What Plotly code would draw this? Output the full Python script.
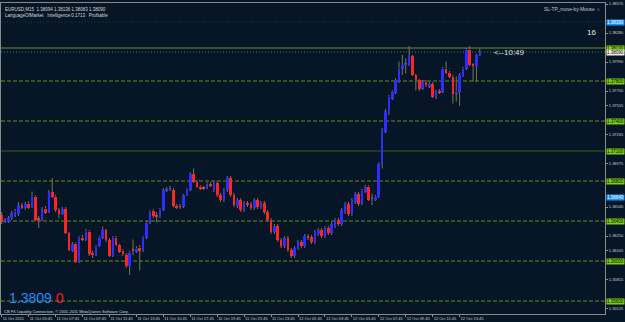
import plotly.graph_objects as go

# ---------------- data (EURUSD, M15) ----------------
opens = [1.3646, 1.3640, 1.36395, 1.3643, 1.3646, 1.3647, 1.3656, 1.3653, 1.36575, 1.3654,
         1.36645, 1.3642, 1.3641, 1.36525, 1.3649, 1.3669, 1.36645, 1.3651, 1.36475, 1.3652,
         1.3628, 1.36105, 1.36175, 1.35995, 1.36235, 1.36215, 1.36295, 1.3608, 1.36065, 1.3615,
         1.36235, 1.3631, 1.3621, 1.3605, 1.36235, 1.3616, 1.36105, 1.3606, 1.3595, 1.3611,
         1.36095, 1.36135, 1.3611, 1.36235, 1.36385, 1.36505, 1.3645, 1.3645, 1.36515, 1.36705,
         1.3671, 1.3671, 1.3655, 1.3655, 1.36545, 1.3666, 1.36715, 1.3687, 1.36795, 1.36745,
         1.3673, 1.36735, 1.3677, 1.3671, 1.3678, 1.3666, 1.3661, 1.3671, 1.3683, 1.3666,
         1.3655, 1.3661, 1.3651, 1.3657, 1.3657, 1.3653, 1.3661, 1.3654, 1.3658, 1.3649,
         1.3641, 1.3629, 1.3635, 1.3621, 1.3615, 1.3623, 1.3611, 1.3605, 1.3613, 1.3619,
         1.3615, 1.3624, 1.3624, 1.3619, 1.3627, 1.3631, 1.3625, 1.3633, 1.3628, 1.3635,
         1.3641, 1.3637, 1.3649, 1.3657, 1.3647, 1.3659, 1.3667, 1.36575, 1.36695, 1.36745,
         1.36625, 1.3661, 1.36645, 1.36975, 1.37295, 1.3750, 1.37625, 1.37685, 1.37795, 1.37925,
         1.37965, 1.3796, 1.3805, 1.3786, 1.3781, 1.37725, 1.37795, 1.37745, 1.3777, 1.37635,
         1.37695, 1.37695, 1.37925, 1.37885, 1.37845, 1.37675, 1.37695, 1.3785, 1.37925, 1.38115,
         1.37965, 1.3795, 1.3806]
highs = [1.3649, 1.3643, 1.3645, 1.3650, 1.3652, 1.3659, 1.3658, 1.3659, 1.3660, 1.36695,
         1.3666, 1.3645, 1.3654, 1.3655, 1.3671, 1.3683, 1.3666, 1.3653, 1.3654, 1.3654,
         1.3629, 1.3619, 1.3619, 1.3625, 1.3626, 1.3632, 1.3631, 1.3610, 1.3616, 1.3625,
         1.36345, 1.3632, 1.3623, 1.3625, 1.3625, 1.3617, 1.3612, 1.3608, 1.3610, 1.36215,
         1.3615, 1.3616, 1.3625, 1.3640, 1.3651, 1.3652, 1.3649, 1.3653, 1.3673, 1.3674,
         1.3675, 1.3673, 1.3657, 1.3657, 1.3667, 1.3673, 1.3689, 1.36925, 1.3681, 1.3676,
         1.3675, 1.3679, 1.3679, 1.3680, 1.3680, 1.3668, 1.3673, 1.3685, 1.3685, 1.3668,
         1.3663, 1.3663, 1.3660, 1.3660, 1.3659, 1.3663, 1.3663, 1.3660, 1.3660, 1.3651,
         1.3643, 1.3637, 1.3637, 1.3623, 1.3625, 1.3625, 1.3613, 1.3615, 1.3621, 1.3621,
         1.3627, 1.3627, 1.3626, 1.3631, 1.3633, 1.3633, 1.3635, 1.3635, 1.3639, 1.3643,
         1.3643, 1.3653, 1.3659, 1.3659, 1.3663, 1.3669, 1.3669, 1.3672, 1.3676, 1.3676,
         1.36675, 1.3666, 1.3699, 1.3733, 1.3752, 1.3766, 1.3771, 1.3783, 1.37995, 1.3806,
         1.38025, 1.3815, 1.3806, 1.3787, 1.3782, 1.3781, 1.3781, 1.3779, 1.3779, 1.3771,
         1.3772, 1.3794, 1.37995, 1.3790, 1.3786, 1.37845, 1.3788, 1.3794, 1.3813, 1.3815,
         1.3798, 1.3807, 1.38125]
lows = [1.3637, 1.3638, 1.3638, 1.3641, 1.3644, 1.3645, 1.3652, 1.3651, 1.3652, 1.3653,
        1.3640, 1.3633, 1.3640, 1.3647, 1.3648, 1.3663, 1.3649, 1.3643, 1.3646, 1.3627,
        1.3610, 1.3609, 1.3598, 1.3598, 1.3620, 1.3620, 1.3605, 1.3603, 1.3605, 1.3614,
        1.3622, 1.3619, 1.3604, 1.3604, 1.3615, 1.3608, 1.3605, 1.3593, 1.3586, 1.3606,
        1.3608, 1.35905, 1.3609, 1.3622, 1.3637, 1.3643, 1.3639, 1.3643, 1.3650, 1.3669,
        1.3670, 1.3654, 1.3652, 1.3652, 1.3653, 1.3665, 1.3670, 1.3678, 1.3673, 1.3671,
        1.3671, 1.3672, 1.3674, 1.3669, 1.3664, 1.3659, 1.3659, 1.3669, 1.3664, 1.3654,
        1.3653, 1.3649, 1.3649, 1.3654, 1.3651, 1.3651, 1.3652, 1.3652, 1.3647, 1.3639,
        1.3627, 1.3627, 1.3619, 1.3613, 1.3613, 1.3609, 1.3603, 1.3603, 1.3611, 1.3613,
        1.3613, 1.3621, 1.3617, 1.3617, 1.3625, 1.3623, 1.3623, 1.3626, 1.3626, 1.3633,
        1.3635, 1.3635, 1.3647, 1.3645, 1.3645, 1.3657, 1.3655, 1.3656, 1.3668, 1.3660,
        1.3656, 1.3660, 1.3663, 1.36925, 1.3728, 1.3746, 1.3761, 1.3767, 1.3778, 1.3786,
        1.37875, 1.3795, 1.3785, 1.37705, 1.3770, 1.3771, 1.3774, 1.3773, 1.3763, 1.3762,
        1.3767, 1.3768, 1.3787, 1.3783, 1.37575, 1.37595, 1.3755, 1.3784, 1.3791, 1.3795,
        1.37795, 1.37795, 1.3805]
closes = [1.3639, 1.36405, 1.3643, 1.3648, 1.36495, 1.3656, 1.36535, 1.3657, 1.36535, 1.36645,
          1.3641, 1.36415, 1.3652, 1.36485, 1.3669, 1.36645, 1.3651, 1.36475, 1.3652, 1.3628,
          1.3611, 1.3617, 1.35995, 1.36235, 1.36215, 1.36295, 1.3607, 1.3606, 1.36145, 1.36235,
          1.3631, 1.3621, 1.3605, 1.36235, 1.3616, 1.36095, 1.3607, 1.3595, 1.36085, 1.36105,
          1.36125, 1.36105, 1.36235, 1.36385, 1.36495, 1.3645, 1.36445, 1.36515, 1.3671, 1.36715,
          1.36725, 1.3655, 1.36535, 1.3654, 1.3666, 1.36715, 1.3687, 1.36795, 1.36745, 1.36725,
          1.36725, 1.36775, 1.36755, 1.3678, 1.3666, 1.3661, 1.3671, 1.3683, 1.3666, 1.3656,
          1.3661, 1.3651, 1.3658, 1.36565, 1.3653, 1.3661, 1.3654, 1.3658, 1.3649, 1.3641,
          1.3629, 1.3635, 1.3621, 1.3615, 1.3623, 1.3611, 1.3605, 1.3613, 1.3619, 1.3615,
          1.3625, 1.36235, 1.3619, 1.3629, 1.3631, 1.3625, 1.3633, 1.3628, 1.3637, 1.3641,
          1.3637, 1.3651, 1.3657, 1.3647, 1.3661, 1.3667, 1.3657, 1.36705, 1.36745, 1.3661,
          1.3663, 1.36645, 1.36975, 1.3731, 1.3750, 1.37645, 1.37695, 1.3781, 1.37925, 1.3796,
          1.3797, 1.3805, 1.3786, 1.3781, 1.3772, 1.37795, 1.3776, 1.3777, 1.37645, 1.3770,
          1.3769, 1.37925, 1.37885, 1.37845, 1.37675, 1.37695, 1.3786, 1.37925, 1.38115, 1.3796,
          1.3795, 1.3806, 1.3809]

time_labels = ["11 Oct 2011", "11 Oct 05:45", "11 Oct 07:45", "11 Oct 09:45", "11 Oct 11:45",
               "11 Oct 13:45", "11 Oct 15:45", "11 Oct 17:45", "11 Oct 19:45", "11 Oct 21:45",
               "11 Oct 23:45", "12 Oct 01:45", "12 Oct 03:45", "12 Oct 05:45", "12 Oct 07:45",
               "12 Oct 09:45", "12 Oct 11:45", "12 Oct 13:45"]
bars_per_label = 8

price_ticks = [1.38570, 1.38425, 1.38280, 1.38135, 1.37990, 1.37845, 1.37700, 1.37555,
               1.37410, 1.37265, 1.37120, 1.36975, 1.36830, 1.36685, 1.36540, 1.36395,
               1.36250, 1.36105, 1.35960, 1.35815, 1.35670, 1.35525]

dashed_levels = [1.3780, 1.3740, 1.3680, 1.3640, 1.3600, 1.3560]
solid_level = 1.3710
upper_level = 1.3813
bid_price = 1.3809
blue_levels = [1.3839, 1.3664]
big_price_text = "1.3809"
spread_text = "0"

# ---------------- styling ----------------
BG = "#061626"
UP = "#2d2dff"
DOWN = "#ff2424"
WICK = "#77755a"
LEVEL = "#6a8c1e"
TAG_GREEN = "#7ccc10"
TAG_BLUE = "#1e8fff"
FONT = "Liberation Sans, Arial, sans-serif"
MIN_BODY = 0.00008

n = len(opens)
idx = list(range(n))

fig = go.Figure()

# wicks (upper and lower parts so they do not cross the body)
wx, wy = [], []
for i in idx:
    top = max(opens[i], closes[i])
    bot = min(opens[i], closes[i])
    wx += [i, i, None, i, i, None]
    wy += [highs[i], top, None, bot, lows[i], None]
fig.add_trace(go.Scatter(x=wx, y=wy, mode="lines", line=dict(color=WICK, width=1),
                         hoverinfo="skip", showlegend=False))

# bodies
for up in (True, False):
    xs, base, h = [], [], []
    for i in idx:
        is_up = closes[i] >= opens[i]
        if is_up != up:
            continue
        lo = min(opens[i], closes[i])
        hh = abs(closes[i] - opens[i])
        if hh < MIN_BODY:
            lo -= (MIN_BODY - hh) / 2
            hh = MIN_BODY
        xs.append(i)
        base.append(lo)
        h.append(hh)
    fig.add_trace(go.Bar(x=xs, y=h, base=base, width=0.78,
                         marker=dict(color=UP if up else DOWN, line=dict(width=0)),
                         showlegend=False, hoverinfo="skip"))

# horizontal levels
shapes = []
for lv in dashed_levels:
    shapes.append(dict(type="line", xref="paper", x0=0, x1=1, yref="y", y0=lv, y1=lv,
                       line=dict(color=LEVEL, width=1, dash="4px,2px"), layer="below"))
shapes.append(dict(type="line", xref="paper", x0=0, x1=1, yref="y", y0=solid_level, y1=solid_level,
                   line=dict(color="#3a5a10", width=1), layer="below"))
shapes.append(dict(type="line", xref="paper", x0=0, x1=1, yref="y", y0=upper_level, y1=upper_level,
                   line=dict(color="#6f8f2c", width=1), layer="below"))
shapes.append(dict(type="line", xref="paper", x0=0, x1=1, yref="y", y0=bid_price, y1=bid_price,
                   line=dict(color="#2c8080", width=1, dash="1px,2px"), layer="below"))
shapes.append(dict(type="line", xref="paper", x0=0, x1=1, yref="y", y0=blue_levels[0], y1=blue_levels[0],
                   line=dict(color="#1d3b3b", width=1, dash="1px,2px"), layer="below"))

annotations = []
tag_prices = []

def tag(price, bg, fg="#000000"):
    tag_prices.append(price)
    annotations.append(dict(xref="paper", x=1.0, xanchor="left", yref="y", y=price, yanchor="middle",
                            text=f"{price:.5f}", showarrow=False, bgcolor=bg, borderpad=0,
                            font=dict(family=FONT, size=4.5, color=fg), xshift=1))

for lv in dashed_levels + [solid_level, upper_level]:
    tag(lv, TAG_GREEN)
for lv in blue_levels:
    tag(lv, TAG_BLUE, "#ffffff")
tag(bid_price, "#f2f0d8")

# price labels hidden under a tag (as on the terminal) are left out
visible_ticks = [v for v in price_ticks if all(abs(v - t) > 0.0007 for t in tag_prices)]

# texts
annotations += [
    dict(xref="paper", yref="paper", x=0.004, y=0.995, xanchor="left", yanchor="top", showarrow=False,
         text="EURUSD,M15  1.38094 1.38136 1.38083 1.38090", font=dict(family=FONT, size=4.5, color="#d8d8d8")),
    dict(xref="paper", yref="paper", x=0.004, y=0.975, xanchor="left", yanchor="top", showarrow=False,
         text="LanguageOfMarket   Intelligence:0.1713   Profitable", font=dict(family=FONT, size=4.5, color="#d8d8d8")),
    dict(xref="paper", yref="paper", x=0.997, y=0.995, xanchor="right", yanchor="top", showarrow=False,
         text="SL-TP_move-by-Mouse \u263a", font=dict(family=FONT, size=4.8, color="#c8c8c8")),
    dict(xref="paper", yref="paper", x=0.988, y=0.905, xanchor="right", yanchor="middle", showarrow=False,
         text="16", font=dict(family=FONT, size=8, color="#e8e8e8")),
    dict(xref="x", yref="y", x=n + 2.5, y=bid_price, xanchor="left", yanchor="middle", showarrow=False,
         text="<--10:49", font=dict(family=FONT, size=8, color="#e0e0e0")),
    dict(xref="paper", yref="paper", x=0.011, y=0.022, xanchor="left", yanchor="bottom", showarrow=False,
         text=f"<span style='color:#1e8fff'>{big_price_text}</span> <span style='color:#ff1a1a'>{spread_text}</span>",
         font=dict(family=FONT, size=14), borderpad=0),
    dict(xref="paper", yref="paper", x=0.004, y=0.0, xanchor="left", yanchor="bottom", showarrow=False,
         text="CB FX Liquidity Connection, \u00a9 2001-2011 MetaQuotes Software Corp.",
         font=dict(family=FONT, size=4, color="#d8d8d8"), yshift=-1, borderpad=0),
]

x0_px = 0.7
px_per_bar = 3.367
plot_w = 604
xr0 = -x0_px / px_per_bar
xr1 = xr0 + plot_w / px_per_bar

fig.update_layout(
    width=625, height=322,
    margin=dict(l=1, r=20, t=3, b=8, pad=0),
    paper_bgcolor=BG, plot_bgcolor=BG,
    barmode="overlay", bargap=0,
    shapes=shapes, annotations=annotations,
    showlegend=False,
    xaxis=dict(range=[xr0, xr1], showgrid=False, zeroline=False, automargin=False,
               tickvals=[k * bars_per_label for k in range(len(time_labels))],
               ticktext=time_labels, ticks="outside", ticklen=2, tickcolor="#909090",
               ticklabelposition="outside right", tickangle=0,
               tickfont=dict(family=FONT, size=4, color="#d0d0d0"),
               showline=True, linecolor="#8a8a8a", linewidth=1, mirror=True),
    yaxis=dict(range=[1.3547, 1.3858], side="right", showgrid=False, zeroline=False, automargin=False,
               tickvals=visible_ticks, ticktext=[f"{v:.5f}" for v in visible_ticks],
               ticks="outside", ticklen=2, tickcolor="#909090",
               tickfont=dict(family=FONT, size=4, color="#d0d0d0"),
               showline=True, linecolor="#8a8a8a", linewidth=1, mirror=True),
)

fig.write_html("out.html")
